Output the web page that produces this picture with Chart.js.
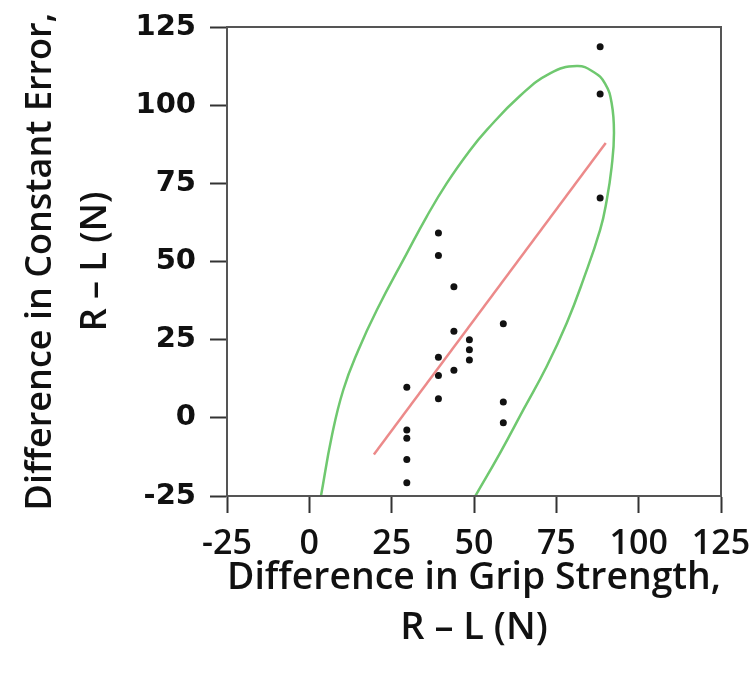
<!DOCTYPE html>
<html>
<head>
<meta charset="utf-8">
<title>Grip strength vs constant error</title>
<script src="https://cdn.jsdelivr.net/npm/chart.js@4.4.0/dist/chart.umd.min.js"></script>
<style>
    html, body { margin: 0; padding: 0; background: #ffffff; }
    #wrap { width: 749px; height: 678px; }
</style>
</head>
<body>
<div id="wrap"><canvas id="chartCanvas" width="749" height="678"></canvas></div>
<script>
// Scatter points (x = grip strength diff, y = constant error diff)
var gripDiff = [88.3, 88.3, 88.3, 39.2, 39.2, 43.9, 58.9, 43.9, 48.6, 48.6, 48.6, 39.2, 43.9, 39.2, 29.6, 39.2, 58.9, 58.9, 29.6, 29.6, 29.6, 29.6];
var errorDiff = [118.7, 103.6, 70.3, 59.1, 51.9, 41.9, 30.1, 27.7, 25.0, 21.8, 18.5, 19.4, 15.2, 13.5, 9.8, 6.1, 5.1, -1.6, -3.9, -6.5, -13.3, -20.8];

// Regression line end points
var fitX = [19.6, 90.0];
var fitY = [-11.7, 87.9];

// Confidence ellipse outline (clipped by the plot bottom)
var ellipseX = [3.5, 6.8, 10.3, 14.9, 20.5, 29.6, 35.6, 41.7, 48.8, 53.9, 64.0, 73.1, 81.2, 86.2, 89.8, 91.8, 92.5, 91.8, 90.3, 88.3, 83.2, 78.2, 72.1, 65.0, 57.9, 50.3];
var ellipseY = [-25.2, -6.0, 8.9, 21.7, 34.5, 52.6, 64.3, 75.0, 85.6, 92.1, 103.0, 110.2, 112.5, 110.7, 106.9, 100.6, 91.0, 80.3, 69.6, 60.1, 44.2, 30.4, 16.5, 2.6, -11.3, -25.2];

// Axis settings
var axisMin = -25;
var axisMax = 125;
var axisStep = 25;

function toPoints(xs, ys) {
    var pts = [];
    for (var i = 0; i < xs.length; i++) {
        pts.push({x: xs[i], y: ys[i]});
    }
    return pts;
}

// draws the top and right sides of the plot box
var frameBox = {
    id: 'frameBox',
    afterDraw: function(chart) {
        var a = chart.chartArea;
        var ctx = chart.ctx;
        ctx.save();
        ctx.strokeStyle = '#555555';
        ctx.lineWidth = 2;
        ctx.strokeRect(a.left, a.top, a.right - a.left, a.bottom - a.top);
        ctx.restore();
    }
};

// keep the plot box where the reference has it
function noScalePadding(scale) {
    scale.paddingLeft = 0;
    scale.paddingRight = 0;
    scale.paddingTop = 0;
    scale.paddingBottom = 0;
}

var ctx = document.getElementById('chartCanvas').getContext('2d');
var chart = new Chart(ctx, {
    type: 'scatter',
    data: {
        datasets: [{
            label: 'Ellipse',
            data: toPoints(ellipseX, ellipseY),
            showLine: true,
            borderColor: '#6fc86f',
            borderWidth: 2.5,
            pointRadius: 0,
            tension: 0.45,
            fill: false
        }, {
            label: 'Fit',
            data: toPoints(fitX, fitY),
            showLine: true,
            borderColor: '#ec8a8a',
            borderWidth: 2.5,
            pointRadius: 0,
            fill: false
        }, {
            label: 'Subjects',
            data: toPoints(gripDiff, errorDiff),
            backgroundColor: '#111111',
            borderWidth: 0,
            pointRadius: 3.5
        }]
    },
    options: {
        responsive: false,
        animation: false,
        layout: {
            padding: {top: 27, right: 28, left: 0, bottom: 0}
        },
        plugins: {
            legend: {display: false},
            tooltip: {enabled: false}
        },
        scales: {
            x: {
                type: 'linear',
                min: axisMin,
                max: axisMax,
                afterFit: function(scale) {
                    scale.height = 182;
                    noScalePadding(scale);
                },
                ticks: {
                    stepSize: axisStep,
                    autoSkip: false,
                    maxRotation: 0,
                    padding: 11,
                    color: '#111111',
                    font: {family: 'Open Sans', size: 34, weight: '600'}
                },
                grid: {
                    drawOnChartArea: false,
                    drawTicks: true,
                    tickLength: 17,
                    tickColor: '#333333',
                    tickWidth: 2
                },
                border: {color: '#555555', width: 2},
                title: {
                    display: true,
                    text: ['Difference in Grip Strength,', 'R \u2013 L (N)'],
                    color: '#111111',
                    font: {family: 'Open Sans', size: 38, weight: '600', lineHeight: 1.32},
                    padding: {top: 0, bottom: 25}
                }
            },
            y: {
                type: 'linear',
                min: axisMin,
                max: axisMax,
                afterFit: function(scale) {
                    scale.width = 227;
                    noScalePadding(scale);
                },
                ticks: {
                    stepSize: axisStep,
                    padding: 14,
                    color: '#111111',
                    font: {family: 'DejaVu Sans', size: 29, weight: 'bold'}
                },
                grid: {
                    drawOnChartArea: false,
                    drawTicks: true,
                    tickLength: 17,
                    tickColor: '#333333',
                    tickWidth: 2
                },
                border: {color: '#555555', width: 2},
                title: {
                    display: true,
                    text: ['Difference in Constant Error,', 'R \u2013 L (N)'],
                    color: '#111111',
                    font: {family: 'Open Sans', size: 36, weight: '600', lineHeight: 1.53},
                    padding: {top: 13, bottom: 0}
                }
            }
        }
    },
    plugins: [frameBox]
});
</script>
</body>
</html>
